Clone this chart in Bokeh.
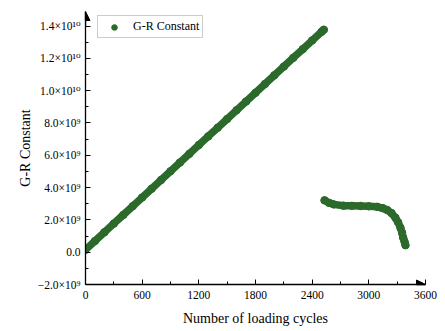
from bokeh.plotting import figure
from bokeh.models import (Range1d, FixedTicker, CustomJSTickFormatter, Arrow,
                          NormalHead)
from bokeh.embed import file_html
from bokeh.resources import INLINE

# ---- data (G-R constant, units of 1e9) ----
cycles_a = [0, 100, 200, 300, 400, 500, 600, 700, 800, 900, 1000, 1100, 1200,
            1300, 1400, 1500, 1600, 1700, 1800, 1900, 2000, 2100, 2200, 2300,
            2400, 2500, 2523]
grc_a = [0.15, 0.69, 1.23, 1.77, 2.31, 2.85, 3.39, 3.93, 4.47, 5.01, 5.55,
         6.09, 6.63, 7.17, 7.71, 8.25, 8.79, 9.33, 9.87, 10.41, 10.95, 11.49,
         12.03, 12.57, 13.11, 13.65, 13.77]
cycles_b = [2531, 2580, 2629, 2732, 2820, 2912, 3000, 3089, 3150, 3194, 3240,
            3282, 3310, 3335, 3352, 3364, 3378, 3388]
grc_b = [3.21, 3.05, 2.96, 2.88, 2.87, 2.86, 2.84, 2.81, 2.72, 2.61, 2.42,
         2.13, 1.85, 1.51, 1.20, 0.89, 0.65, 0.43]

x_ticks = [0, 600, 1200, 1800, 2400, 3000, 3600]
y_ticks = [-2e9, 0, 2e9, 4e9, 6e9, 8e9, 1e10, 1.2e10, 1.4e10]

GREEN = "#2b6a2b"
FONT = "'Liberation Serif', 'DejaVu Serif', serif"

ya = [v * 1e9 for v in grc_a]
yb = [v * 1e9 for v in grc_b]

p = figure(width=445, height=331, output_backend="svg", toolbar_location=None,
           x_range=Range1d(0, 3600), y_range=Range1d(-2e9, 1.49e10),
           min_border_left=85, min_border_bottom=47, min_border_top=11,
           min_border_right=20)
p.outline_line_color = None
p.grid.visible = False

# thick line under markers to emulate dense overlapping points
p.line(cycles_a, ya, line_color=GREEN, line_width=7.5, line_cap="round")
p.line(cycles_b, yb, line_color=GREEN, line_width=7.5, line_cap="round")
p.scatter(cycles_a, ya, size=7.5, color=GREEN, legend_label="G-R Constant")
p.scatter(cycles_b, yb, size=7.5, color=GREEN)

for ax in (p.xaxis[0], p.yaxis[0]):
    ax.axis_line_width = 1.3
    ax.axis_line_color = "black"
    ax.major_tick_line_color = "black"
    ax.minor_tick_line_color = "black"
    ax.major_tick_in = 5
    ax.major_tick_out = 0
    ax.minor_tick_in = 3
    ax.minor_tick_out = 0
    ax.major_label_text_font = FONT
    ax.major_label_text_font_size = "11.5px"
    ax.major_label_text_color = "black"
    ax.axis_label_text_font = FONT
    ax.axis_label_text_font_size = "14px"
    ax.axis_label_text_font_style = "normal"
    ax.axis_label_text_color = "black"

p.xaxis.ticker = FixedTicker(ticks=x_ticks,
                             minor_ticks=[300, 900, 1500, 2100, 2700, 3300])
p.yaxis.ticker = FixedTicker(ticks=y_ticks,
                             minor_ticks=[-1e9, 1e9, 3e9, 5e9, 7e9, 9e9, 1.1e10, 1.3e10])
p.yaxis.formatter = CustomJSTickFormatter(code="""
const v = tick / 1e9;
if (Math.abs(v) < 1e-6) return '0.0';
let s;
if (Math.abs(v) >= 10) s = (v / 10).toFixed(1) + '\u00d710\u00b9\u2070';
else s = v.toFixed(1) + '\u00d710\u2079';
return s.replace('-', '\u2212');
""")
p.xaxis.axis_label = "Number of loading cycles"
p.yaxis.axis_label = "G-R Constant"
p.xaxis.major_label_standoff = 6
p.yaxis.major_label_standoff = 5
p.xaxis.axis_label_standoff = 9
p.yaxis.axis_label_standoff = 2

# axis arrow heads
p.add_layout(Arrow(end=NormalHead(size=9, fill_color="black", line_color="black"),
                   x_start=3500, y_start=-2e9, x_end=3600, y_end=-2e9,
                   line_color="black", line_width=1.3))
p.add_layout(Arrow(end=NormalHead(size=9, fill_color="black", line_color="black"),
                   x_start=0, y_start=1.4e10, x_end=0, y_end=1.49e10,
                   line_color="black", line_width=1.3))

lg = p.legend[0]
lg.location = (12, 246)
lg.label_text_font = FONT
lg.label_text_font_size = "12px"
lg.label_text_color = "black"
lg.padding = 3
lg.margin = 0
lg.spacing = 0
lg.glyph_width = 26
lg.glyph_height = 14
lg.label_height = 14
lg.label_standoff = 6
lg.border_line_color = "#999999"
lg.border_line_width = 1
lg.background_fill_alpha = 1

open("out.html", "w").write(file_html(p, INLINE))
